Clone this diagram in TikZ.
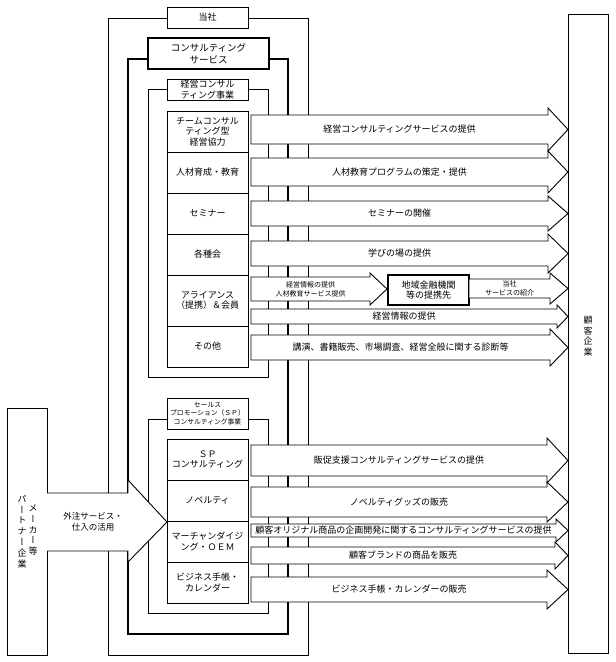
\documentclass[tikz,border=0pt]{standalone}
\usepackage{fontspec}
\setmainfont{Noto Sans CJK JP}
\newfontfamily\tatefont[RawFeature=+vert]{Noto Sans CJK JP}

% name, style, x0, x head, x tip, y top, y bottom, head extend, text
\newcommand{\fatarrow}[9]{%
  \draw[fat] (#3,#6) -- (#4,#6) -- (#4,{#6-#8}) -- (#5,{(#6+#7)/2})
    -- (#4,{#7+#8}) -- (#4,#7) -- (#3,#7) -- cycle;
  \node[#2] (#1) at ({(#3+#4)/2},{(#6+#7)/2}) {#9};
}

\begin{document}
\begin{tikzpicture}%
  [x=1pt, y=-1pt,
   jp/.style={font=\fontsize{9}{10.5}\selectfont},
   jpsmall/.style={font=\fontsize{7}{9}\selectfont},
   wall/.style={draw, line width=0.8pt},
   thickwall/.style={draw, line width=1.8pt},
   labelbox/.style={draw, fill=white, line width=0.8pt, align=center,
                    inner sep=0pt, minimum width=81, minimum height=21, jp},
   unit/.style={draw, fill=white, line width=0.8pt, align=center,
                inner sep=0pt, minimum width=81, minimum height=41, jp},
   fat/.style={draw, fill=white, line width=0.9pt, line join=miter},
   atext/.style={align=center, inner sep=0pt, jp},
   asmall/.style={align=center, inner sep=0pt, jpsmall},
   tate/.style={align=center, inner sep=0pt,
                font=\tatefont\fontsize{9}{10.8}\selectfont},
  ]
\useasboundingbox (0,0) rectangle (616,662);

% nested frames
\draw[wall] (108,18) rectangle (308,655);
\draw[thickwall] (128,59) rectangle (288,634);
\draw[wall] (148,89) rectangle (268,377);
\draw[wall] (148,419) rectangle (268,613);

\node[labelbox] (tosha) at (207.5,17.5) {当社};
\node[labelbox, line width=1.8pt, minimum width=121, minimum height=31,
      font=\fontsize{9.5}{12.5}\selectfont] (cons) at (208.5,53.5) {コンサルティング\\サービス};
\node[labelbox, font=\fontsize{9}{11}\selectfont] (keiei) at (207.5,89.5) {経営コンサル\\ティング事業};
\node[labelbox, minimum height=31, font=\fontsize{6.8}{8.5}\selectfont] (sp) at (207.5,413.5)
  {セールス\\プロモーション（ＳＰ）\\コンサルティング事業};

% business units
\node[unit] (team)     at (207.5,131.5) {チームコンサル\\ティング型\\経営協力};
\node[unit] (jinzai)   at (207.5,172.5) {人材育成・教育};
\node[unit] (seminar)  at (207.5,213.5) {セミナー};
\node[unit] (kaku)     at (207.5,254.5) {各種会};
\node[unit, minimum height=51] (alliance) at (207.5,300.5) {アライアンス\\（提携）＆会員};
\node[unit] (sonota)   at (207.5,346.5) {その他};

\node[unit] (spcons)   at (207.5,459.5) {ＳＰ\\コンサルティング};
\node[unit] (novelty)  at (207.5,500.5) {ノベルティ};
\node[unit] (merch)    at (207.5,541.5) {マーチャンダイジ\\ング・ＯＥＭ};
\node[unit] (techo)    at (207.5,582.5) {ビジネス手帳・\\カレンダー};

% flows to the customers
\fatarrow{aTeam}{atext}{251}{548}{568}{115}{144}{7}{経営コンサルティングサービスの提供}
\fatarrow{aJinzai}{atext}{251}{548}{568}{158}{186}{7}{人材教育プログラムの策定・提供}
\fatarrow{aSeminar}{atext}{251}{548}{568}{201}{226}{5}{セミナーの開催}
\fatarrow{aKaku}{atext}{251}{548}{568}{241}{266}{7}{学びの場の提供}
\fatarrow{aRenkei}{asmall}{251}{370}{387}{277}{301}{4}{経営情報の提供\\人材教育サービス提供}
\node[draw, fill=white, line width=1.2pt, minimum width=81, minimum height=30,
      inner sep=0pt, align=center, jp] (chiiki) at (428.5,290) {地域金融機関\\等の提携先};
\fatarrow{aShokai}{asmall}{469}{550}{568}{279}{298}{6}{当社\\サービスの紹介}
\fatarrow{aJoho}{atext}{251}{557}{568}{309}{324}{4}{経営情報の提供}
\fatarrow{aKoen}{atext}{251}{550}{568}{335}{360}{6}{講演、書籍販売、市場調査、経営全般に関する診断等}

\fatarrow{aHansoku}{atext}{251}{547}{568}{445}{476}{7}{販促支援コンサルティングサービスの提供}
\fatarrow{aGoods}{atext}{251}{547}{568}{487}{517}{5}{ノベルティグッズの販売}
\fatarrow{aOriginal}{atext}{251}{556}{568}{524}{537}{5}{顧客オリジナル商品の企画開発に関するコンサルティングサービスの提供}
\fatarrow{aBrand}{atext}{251}{555}{568}{547}{564}{5}{顧客ブランドの商品を販売}
\fatarrow{aTecho}{atext}{251}{547}{568}{577}{602}{7}{ビジネス手帳・カレンダーの販売}

% customers and partners
\draw[wall] (568,14) rectangle (608,653);
\node[tate, font=\fontsize{9}{10.5}\selectfont] (kokyaku) at (588,336.5) {顧\\客\\企\\業};

\draw[wall] (7,408) rectangle (47,655);
\node[tate] (maker)   at (33,530) {メ\\ー\\カ\\ー\\等};
\node[tate] (partner) at (22,531.5) {パ\\ー\\ト\\ナ\\ー\\企\\業};

% outsourcing
\draw[fat] (47,493) -- (128,493) -- (128,480) -- (167,522) -- (128,562)
  -- (128,551) -- (47,551);
\node[atext, font=\fontsize{8.5}{11}\selectfont] (gaichu) at (93,522) {外注サービス・\\仕入の活用};
\end{tikzpicture}
\end{document}
